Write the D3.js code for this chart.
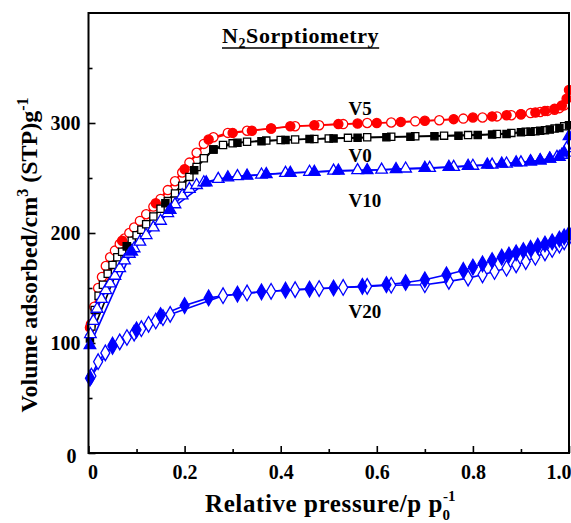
<!DOCTYPE html>
<html>
<head>
<meta charset="utf-8">
<script src="https://cdn.jsdelivr.net/npm/d3@7"></script>
<style>
  html, body { margin: 0; padding: 0; background: #fff; }
  svg { display: block; font-family: "Liberation Serif", "Times New Roman", serif; font-weight: bold; }
</style>
</head>
<body>
<svg id="chart" width="571" height="523"></svg>
<script>
// ---- Data ----
const xTicks = [0, 0.2, 0.4, 0.6, 0.8, 1.0];
const xTickLabels = ["0", "0.2", "0.4", "0.6", "0.8", "1.0"];
const yTicks = [0, 100, 200, 300];
const yTickLabels = ["0", "100", "200", "300"];
const sampleNames = ["V5", "V0", "V10", "V20"];

// V5 (red circles)
const v5AdsP = [0.003, 0.07, 0.14, 0.2, 0.25, 0.3, 0.34, 0.38, 0.42, 0.47, 0.52, 0.56, 0.6, 0.65, 0.7, 0.76, 0.8, 0.84, 0.87, 0.9, 0.93, 0.95, 0.97, 0.985, 0.995, 1.0];
const v5AdsV = [114, 193, 227, 258, 285, 291, 293, 295, 297, 298, 299, 299.5, 300, 301, 302, 303.5, 305, 306, 307, 308, 309.5, 311, 313, 316, 322, 330];
const v5DesP = [0.005,0.012,0.02,0.028,0.036,0.045,0.055,0.065,0.075,0.085,0.095,0.107,0.12,0.135,0.15,0.165,0.18,0.195,0.21,0.225,0.24,0.26,0.29,0.33,0.38,0.43,0.48,0.53,0.58,0.63,0.68,0.73,0.78,0.82,0.85,0.88,0.9,0.92,0.94,0.955,0.97,0.98,0.99];
const v5DesV = [117,133,150,160,170,178,184,190,195,200,205,211,217,224,231,239,247,255,264,273,281,287,291,293,295,297,298,299,300,300.5,301.5,302.5,304,305,306,307,308,309,310,311,312,313.5,316];

// V0 (black squares)
const v0AdsP = [0.003, 0.08, 0.16, 0.22, 0.26, 0.31, 0.36, 0.41, 0.46, 0.51, 0.56, 0.62, 0.67, 0.72, 0.77, 0.81, 0.84, 0.87, 0.9, 0.92, 0.94, 0.96, 0.98, 1.0];
const v0AdsV = [104, 188, 227, 257, 276, 282, 283.5, 284.5, 285.5, 286, 286.5, 287, 287.5, 288, 288.5, 289, 289.5, 290, 291.5, 292, 293, 294, 295.5, 298];
const v0DesP = [0.006,0.013,0.021,0.03,0.04,0.05,0.06,0.07,0.08,0.09,0.1,0.11,0.12,0.135,0.15,0.165,0.18,0.195,0.21,0.225,0.24,0.26,0.28,0.3,0.33,0.37,0.4,0.43,0.47,0.5,0.54,0.58,0.63,0.68,0.74,0.79,0.85,0.88,0.91,0.93,0.95,0.97,0.99];
const v0DesV = [115,130,143,153,163,171,178,183,188,193,198,203,208,215,222,229,236,243,251,260,268,276,280,281.5,283,284,284.5,285,285.5,286,286.5,287,287.5,288,288.5,289,290,291,292,292.5,293.5,295,297];

// V10 (blue triangles)
const v10AdsP = [0.003, 0.09, 0.17, 0.245, 0.29, 0.33, 0.37, 0.42, 0.47, 0.52, 0.58, 0.64, 0.7, 0.75, 0.79, 0.83, 0.86, 0.89, 0.92, 0.94, 0.96, 0.98, 0.99, 1.0];
const v10AdsV = [98, 183, 221, 246, 250.5, 252, 253.5, 254.5, 255.5, 256.5, 257, 258, 259, 260, 261, 262, 263, 264, 265, 266, 267.5, 269, 273, 288];
const v10DesP = [0.004,0.01,0.018,0.027,0.036,0.045,0.055,0.065,0.075,0.085,0.095,0.107,0.12,0.135,0.15,0.165,0.18,0.195,0.21,0.225,0.24,0.27,0.31,0.36,0.41,0.46,0.51,0.56,0.61,0.66,0.71,0.76,0.8,0.84,0.87,0.9,0.92,0.94,0.96,0.975,0.985,0.995];
const v10DesV = [108,120,131,140,148,154,161,168,175,181,186,192,198,205,211,218,226,234,240,243.5,246,249,251.5,253,254.5,255.5,256.5,257,257.5,258.5,259,260,261,262,263,264,265,266,267.5,269,271,277];

// V20 (blue diamonds)
const v20AdsP = [0.003, 0.05, 0.1, 0.15, 0.2, 0.25, 0.31, 0.36, 0.41, 0.46, 0.51, 0.57, 0.62, 0.66, 0.7, 0.745, 0.78, 0.8, 0.82, 0.84, 0.86, 0.875, 0.89, 0.905, 0.92, 0.935, 0.95, 0.965, 0.98, 0.99, 1.0];
const v20AdsV = [68, 98, 112, 125, 134, 141, 144.5, 146.5, 148, 149, 150, 151.5, 153, 155, 157.5, 162, 166, 169, 172, 175, 178, 180, 182, 184, 186, 188, 190, 192, 194.5, 196.5, 199];
const v20DesP = [0.006, 0.02, 0.035, 0.05, 0.065, 0.08, 0.095, 0.11, 0.125, 0.14, 0.155, 0.17, 0.28, 0.33, 0.38, 0.43, 0.48, 0.53, 0.58, 0.63, 0.7, 0.75, 0.79, 0.82, 0.845, 0.87, 0.89, 0.91, 0.93, 0.95, 0.965, 0.98, 0.99, 1.0];
const v20DesV = [70, 83, 91, 97, 101, 105, 109, 113, 117, 120, 123, 126, 143, 145.5, 147, 148.5, 149.5, 150.5, 151.5, 152.5, 153, 156, 159, 162, 165, 168, 171, 174, 178, 182, 185, 189, 192, 196];

// ---- Layout ----
const svg = d3.select("#chart");
const plotLeft = 88.5, plotRight = 569, plotTop = 13, plotBottom = 453;
const x = d3.scaleLinear().domain([0, 1.0]).range([plotLeft, plotRight]);
const y = d3.scaleLinear().domain([0, 400]).range([plotBottom, plotTop]);

const series = [
  { name: "V5",  color: "#ff0000", shape: d3.symbolCircle,   size: 66,
    ads: d3.zip(v5AdsP, v5AdsV),  des: d3.zip(v5DesP, v5DesV),  label: [0.541, 115] },
  { name: "V0",  color: "#000000", shape: d3.symbolSquare,   size: 52,
    ads: d3.zip(v0AdsP, v0AdsV),  des: d3.zip(v0DesP, v0DesV),  label: [0.541, 162] },
  { name: "V10", color: "#0000ff", shape: d3.symbolTriangle, size: 58,
    ads: d3.zip(v10AdsP, v10AdsV), des: d3.zip(v10DesP, v10DesV), label: [0.541, 207] },
  { name: "V20", color: "#0000ff", shape: d3.symbolDiamond,  size: 70,
    ads: d3.zip(v20AdsP, v20AdsV), des: d3.zip(v20DesP, v20DesV), label: [0.541, 318] }
];

const line = d3.line().x(d => x(d[0])).y(d => y(d[1]));

// Axes (ticks inward)
const xAxis = d3.axisBottom(x).tickValues(xTicks).tickFormat((d, i) => xTickLabels[i]).tickSize(-7).tickPadding(12);
const xMinor = d3.axisBottom(x).tickValues([0.1, 0.3, 0.5, 0.7, 0.9]).tickFormat("").tickSize(-4);
const yAxis = d3.axisLeft(y).tickValues(yTicks).tickFormat((d, i) => yTickLabels[i]).tickSize(-7).tickPadding(8);
const yMinor = d3.axisLeft(y).tickValues([50, 150, 250, 350]).tickFormat("").tickSize(-4);

function styleAxis(g) {
  g.select(".domain").remove();
  g.selectAll(".tick line").attr("stroke", "#000").attr("stroke-width", 1.6);
  g.selectAll(".tick text").attr("fill", "#000").style("font-size", "20px").style("font-weight", "bold")
    .style("font-family", '"Liberation Serif", serif');
}

const gx = svg.append("g").attr("transform", `translate(0,${plotBottom})`).call(xAxis).call(styleAxis);
svg.append("g").attr("transform", `translate(0,${plotBottom})`).call(xMinor).call(styleAxis);
gx.selectAll(".tick text").filter(d => d === 1.0).attr("text-anchor", "end").attr("dx", 2);
gx.selectAll(".tick text").filter(d => d === 0).attr("dx", 4);
const gy = svg.append("g").attr("transform", `translate(${plotLeft},0)`).call(yAxis).call(styleAxis);
svg.append("g").attr("transform", `translate(${plotLeft},0)`).call(yMinor).call(styleAxis);
gy.selectAll(".tick text").filter(d => d === 0).attr("dx", -4).attr("dy", "0.45em");

// Data
const plot = svg.append("g");
series.forEach(s => {
  ["des", "ads"].forEach(key => {
    plot.append("path").datum(s[key]).attr("d", line)
      .attr("fill", "none").attr("stroke", s.color).attr("stroke-width", 1.6);
  });
});
series.forEach(s => {
  const sym = d3.symbol().type(s.shape).size(s.size);
  [["des", false], ["ads", true]].forEach(([key, filled]) => {
    plot.selectAll(null).data(s[key]).enter().append("path")
      .attr("d", sym)
      .attr("transform", d => `translate(${x(d[0])},${y(d[1])})`)
      .attr("fill", filled ? s.color : "#fff")
      .attr("stroke", s.color).attr("stroke-width", 1.3);
  });
});

// Frame
svg.append("rect").attr("x", plotLeft).attr("y", plotTop).attr("width", plotRight - plotLeft).attr("height", plotBottom - plotTop)
  .attr("fill", "none").attr("stroke", "#000").attr("stroke-width", 2);

// Sample labels
series.forEach(s => {
  svg.append("text").attr("x", x(s.label[0])).attr("y", s.label[1])
    .style("font-size", "19px").text(s.name);
});

// Title
const title = svg.append("text").attr("x", 222).attr("y", 43).style("font-size", "22px").style("letter-spacing", "0.6px");
title.append("tspan").text("N");
title.append("tspan").attr("dy", 5).style("font-size", "14px").text("2");
title.append("tspan").attr("dy", -5).text("Sorptiometry");
const tb = title.node().getBBox();
svg.append("line").attr("x1", tb.x).attr("x2", tb.x + tb.width).attr("y1", 48).attr("y2", 48)
  .attr("stroke", "#000").attr("stroke-width", 1.5);

// X axis title
const xt = svg.append("text").attr("x", 205).attr("y", 512).style("font-size", "25px");
xt.append("tspan").style("letter-spacing", "0.6px").text("Relative pressure/p p");
xt.append("tspan").attr("dy", -11).style("font-size", "15px").text("-1");
xt.append("tspan").attr("dx", -13).attr("dy", 19).style("font-size", "15px").text("0");

// Y axis title
const yt = svg.append("text").attr("transform", "translate(37,255) rotate(-90)")
  .attr("text-anchor", "middle").style("font-size", "24px");
yt.append("tspan").text("Volume adsorbed/cm");
yt.append("tspan").attr("dy", -9).style("font-size", "16px").text("3");
yt.append("tspan").attr("dy", 9).text(" (STP)g");
yt.append("tspan").attr("dy", -9).style("font-size", "16px").text("-1");
</script>
</body>
</html>
